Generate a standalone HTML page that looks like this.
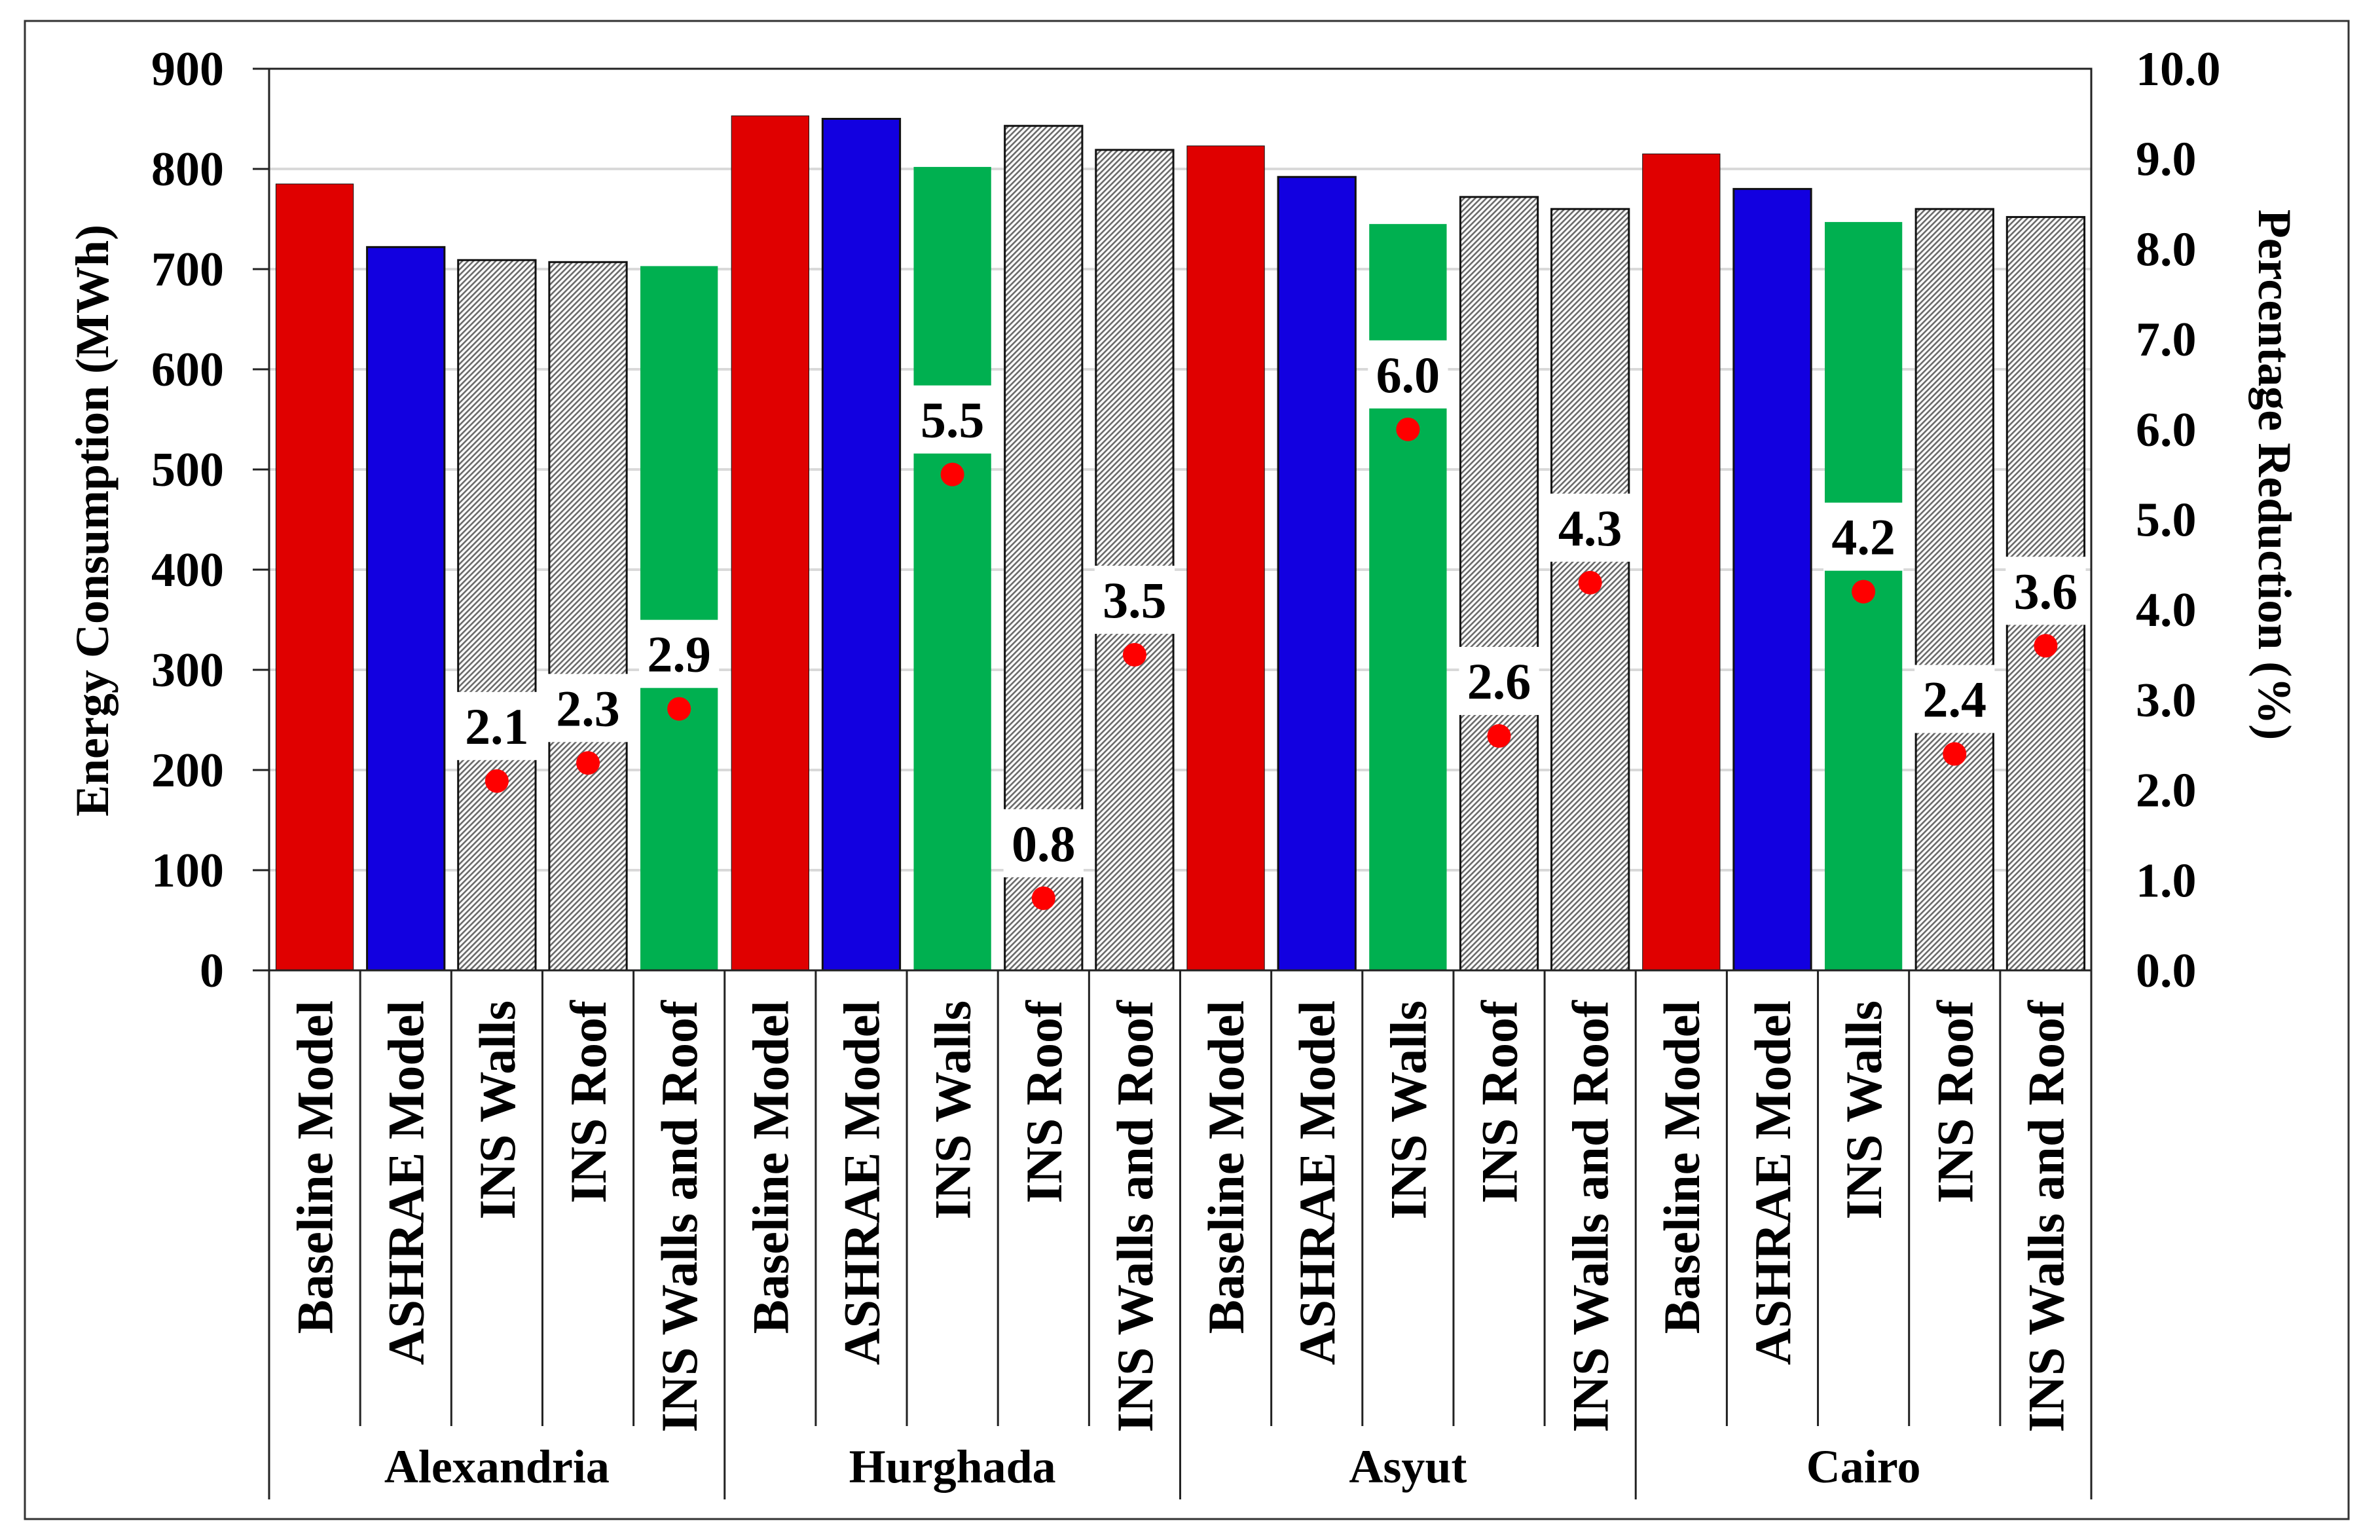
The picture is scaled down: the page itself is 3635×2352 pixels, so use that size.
<!DOCTYPE html>
<html><head><meta charset="utf-8"><style>
html,body{margin:0;padding:0;background:#fff}
svg{display:block}
text{font-family:"Liberation Serif",serif;font-weight:bold;fill:#000}
</style></head><body>
<svg id="chart" width="3635" height="2352" viewBox="0 0 3635 2352" xmlns="http://www.w3.org/2000/svg">
<defs>
<pattern id="hatch" width="6" height="6" patternUnits="userSpaceOnUse" patternTransform="rotate(45)">
<rect width="6" height="6" fill="#fff"/>
<rect x="0" y="0" width="2.6" height="6" fill="#6a6a6a"/>
</pattern>
</defs>
<rect x="38" y="32" width="3549" height="2288" fill="none" stroke="#333" stroke-width="3"/>
<g id="grid"></g>
<g id="bars"></g>
<g id="axes"></g>
<g id="labels"></g>
<text x="0" y="0" font-size="72" text-anchor="middle" transform="translate(165,795) rotate(-90)">Energy Consumption  (MWh)</text>
<text x="0" y="0" font-size="72" text-anchor="middle" transform="translate(3450,725) rotate(90)">Percentage  Reduction (%)</text>
</svg>
<script>
const groups = ["Alexandria","Hurghada","Asyut","Cairo"];
const categories = ["Baseline Model","ASHRAE Model","INS Walls","INS Roof","INS Walls and Roof"];
const energy = [785,722,709,707,703, 853,850,802,843,819, 823,792,745,772,760, 815,780,747,760,752];
const reduction = [null,null,2.1,2.3,2.9, null,null,5.5,0.8,3.5, null,null,6.0,2.6,4.3, null,null,4.2,2.4,3.6];
const barKind = ["red","blue","hatch","hatch","green", "red","blue","green","hatch","hatch", "red","blue","green","hatch","hatch", "red","blue","green","hatch","hatch"];
const leftTicks = [0,100,200,300,400,500,600,700,800,900];
const rightTicks = ["0.0","1.0","2.0","3.0","4.0","5.0","6.0","7.0","8.0","9.0","10.0"];

const NS="http://www.w3.org/2000/svg";
const L=411,R=3194,T=105,B=1482;
const n=energy.length, cw=(R-L)/n, bw=cw*0.85;
const yE=v=>B-(v/900)*(B-T);
const yP=v=>B-(v/10)*(B-T);
const xC=i=>L+cw*(i+0.5);
function mk(tag,attrs,parent){const e=document.createElementNS(NS,tag);for(const k in attrs)e.setAttribute(k,attrs[k]);parent.appendChild(e);return e;}
const grid=document.getElementById('grid'),bars=document.getElementById('bars'),axes=document.getElementById('axes'),labels=document.getElementById('labels');

leftTicks.forEach(t=>{
  if(t>0&&t<900){const g=mk('line',{x1:L,x2:R,y1:yE(t),y2:yE(t),stroke:'#d9d9d9','stroke-width':4},grid);
  
  }
  const tk=mk('line',{x1:386,x2:L,y1:yE(t),y2:yE(t),stroke:'#222','stroke-width':3},axes);
  
  
  const tx=mk('text',{x:342,y:yE(t)+25,'font-size':74,'text-anchor':'end'},axes);
  tx.textContent=t;
  
  
});
rightTicks.forEach(t=>{
  const tx=mk('text',{x:3262,y:yP(parseFloat(t))+25,'font-size':74,'text-anchor':'start'},axes);
  tx.textContent=t;
  
  
});
const colors={red:'#e00000',blue:'#1200e0',green:'#00b050',hatch:'url(#hatch)'};
energy.forEach((v,i)=>{
  const k=barKind[i];
  const r=mk('rect',{x:xC(i)-bw/2,y:yE(v),width:bw,height:B-yE(v),fill:colors[k],stroke:k==='green'?'none':'#111','stroke-width':k==='red'?1:3},bars);
  
  
});
reduction.forEach((p,i)=>{
  if(p===null)return;
  const cy=yP(p+0.61);
  const bg=mk('rect',{x:xC(i)-bw/2-2,y:cy-52,width:bw+4,height:104,fill:'#fff'},labels);
  
  
  const tx=mk('text',{x:xC(i),y:cy+27,'font-size':78,'text-anchor':'middle'},labels);
  tx.textContent=p.toFixed(1);
  
  
  const d=mk('circle',{cx:xC(i),cy:yP(p),r:18,fill:'#ff0000'},labels);
  
  
});
const fr=mk('rect',{x:L,y:T,width:R-L,height:B-T,fill:'none',stroke:'#222','stroke-width':3},axes);


for(let i=0;i<=n;i++){
  const x=L+cw*i;
  const bottom=(i%5===0)?2290:2178;
  const ln=mk('line',{x1:x,x2:x,y1:B,y2:bottom,stroke:'#222','stroke-width':3},axes);
  
  
}
energy.forEach((v,i)=>{
  const tx=mk('text',{x:0,y:0,'font-size':78,'text-anchor':'end',transform:`translate(${xC(i)+27},1528) rotate(-90)`},axes);
  tx.textContent=categories[i%5];
  
  
});
groups.forEach((g,j)=>{
  const tx=mk('text',{x:L+cw*(j*5+2.5),y:2264,'font-size':72,'text-anchor':'middle'},axes);
  tx.textContent=g;
  
  
});
</script>
</body></html>
